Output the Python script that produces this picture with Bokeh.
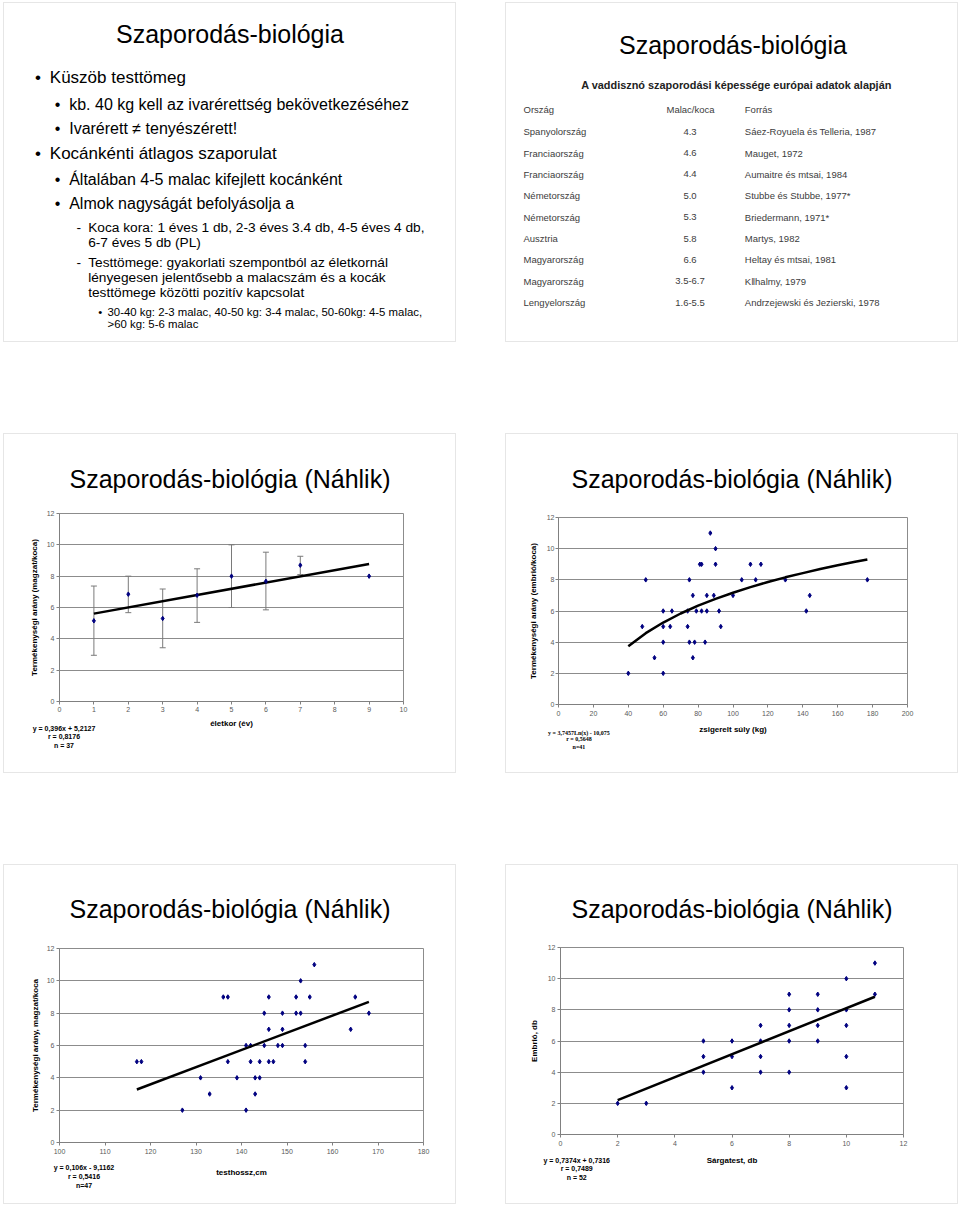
from bokeh.plotting import figure
from bokeh.models import Range1d, Whisker, TeeHead, ColumnDataSource, FixedTicker, Div
from bokeh.layouts import row, column
from bokeh.embed import file_html
from bokeh.resources import INLINE
from bokeh.core.properties import value

# ---------------- data ----------------
slide_title = "Szaporodás-biológia"
chart_title = "Szaporodás-biológia (Náhlik)"

s1_lines = [
    (1, "Küszöb testtömeg", True),
    (2, "kb. 40 kg kell az ivarérettség bekövetkezéséhez", True),
    (2, "Ivarérett ≠ tenyészérett!", True),
    (1, "Kocánkénti átlagos szaporulat", True),
    (2, "Általában 4-5 malac kifejlett kocánként", True),
    (2, "Almok nagyságát befolyásolja a", True),
    (3, "Koca kora: 1 éves 1 db, 2-3 éves 3.4 db, 4-5 éves 4 db,", True),
    (3, "6-7 éves 5 db (PL)", False),
    (3, "Testtömege: gyakorlati szempontból az életkornál", True),
    (3, "lényegesen jelentősebb a malacszám és a kocák", False),
    (3, "testtömege közötti pozitív kapcsolat", False),
    (4, "30-40 kg: 2-3 malac, 40-50 kg: 3-4 malac, 50-60kg: 4-5 malac,", True),
    (4, ">60 kg: 5-6 malac", False),
]

table_title = "A vaddisznó szaporodási képessége európai adatok alapján"
table_headers = ["Ország", "Malac/koca", "Forrás"]
countries = ["Spanyolország", "Franciaország", "Franciaország", "Németország",
             "Németország", "Ausztria", "Magyarország", "Magyarország", "Lengyelország"]
litter = ["4.3", "4.6", "4.4", "5.0", "5.3", "5.8", "6.6", "3.5-6.7", "1.6-5.5"]
sources = ["Sáez-Royuela és Telleria, 1987", "Mauget, 1972", "Aumaitre és mtsai, 1984",
           "Stubbe és Stubbe, 1977*", "Briedermann, 1971*", "Martys, 1982",
           "Heltay és mtsai, 1981", "K‖halmy, 1979", "Andrzejewski és Jezierski, 1978"]

# chart 1: age (years) vs litter size
age = [1, 2, 3, 4, 5, 6, 7, 9]
age_mean = [5.15, 6.85, 5.3, 6.78, 8.0, 7.67, 8.7, 8.0]
err_age = [1, 2, 3, 4, 5, 6, 7]
err_upper = [7.37, 8.0, 7.18, 8.47, 10.0, 9.53, 9.27]
err_lower = [2.95, 5.67, 3.43, 5.05, 6.0, 5.85, 8.1]
age_trend_x = [1, 9]
age_trend_y = [5.61, 8.78]
age_eq = ["y = 0,396x + 5,2127", "r = 0,8176", "n = 37"]

# chart 2: eviscerated weight vs embryos
weight = [40, 48, 50, 55, 60, 60, 60, 60, 64, 65, 74, 74, 75, 75, 77, 77, 78, 79, 81, 82,
          82, 84, 85, 85, 87, 89, 90, 90, 92, 93, 100, 105, 110, 113, 116, 130, 142, 144, 177]
embryo_w = [2, 5, 8, 3, 6, 5, 4, 2, 5, 6, 5, 6, 8, 4, 7, 3, 4, 6, 9, 9,
            6, 4, 7, 6, 11, 7, 10, 9, 6, 5, 7, 8, 9, 8, 9, 8, 6, 7, 8]
log_fit_x = [40, 50, 60, 70, 80, 90, 100, 110, 120, 130, 140, 150, 160, 170, 177]
log_fit_y = [3.74, 4.58, 5.26, 5.84, 6.34, 6.78, 7.17, 7.53, 7.86, 8.16, 8.43, 8.69, 8.93, 9.16, 9.31]
weight_eq = ["y = 3,7457Ln(x) - 10,075", "r = 0,5648", "n=41"]

# chart 3: body length vs foetuses
length = [117, 118, 127, 131, 133, 136, 137, 137, 139, 141, 141, 142, 142, 143, 143, 144, 144,
          145, 145, 146, 146, 146, 147, 148, 149, 149, 149, 152, 152, 153, 153, 154, 154, 155,
          156, 164, 165, 168]
foetus_l = [5, 5, 2, 4, 3, 9, 9, 5, 4, 2, 6, 6, 5, 4, 3, 4, 5,
            8, 6, 9, 7, 5, 5, 6, 8, 7, 6, 9, 8, 8, 10, 6, 5, 9,
            11, 7, 9, 8]
len_trend_x = [117, 168]
len_trend_y = [3.28, 8.70]
len_eq = ["y = 0,106x - 9,1162", "r = 0,5416", "n=47"]

# chart 4: corpora lutea vs embryos
lutea = [2, 3, 5, 5, 5, 6, 6, 6, 7, 7, 7, 7, 8, 8, 8, 8, 8, 9, 9, 9, 9, 10, 10, 10, 10, 10, 11, 11]
embryo_c = [2, 2, 6, 5, 4, 6, 5, 3, 7, 6, 5, 4, 9, 8, 7, 6, 4, 9, 8, 7, 6, 10, 8, 7, 5, 3, 11, 9]
cl_trend_x = [2, 11]
cl_trend_y = [2.21, 8.84]
cl_eq = ["y = 0,7374x + 0,7316", "r = 0,7489", "n = 52"]

# ---------------- styling ----------------
SW, SH = 453, 340
FONT = "Liberation Sans"
SLIDE_STYLE = {"border": "1px solid #e6e6e6", "box-sizing": "border-box"}
GRID = "#8c8c8c"
NAVY = "#000080"
SHIFT = 0.42  # baseline correction (em) for svg text glyphs


def text_slide():
    p = figure(width=SW, height=SH, x_range=Range1d(0, SW), y_range=Range1d(SH, 0),
               min_border=0, x_axis_location=None, y_axis_location=None,
               output_backend="svg", toolbar_location=None, styles=SLIDE_STYLE)
    p.grid.visible = False
    p.outline_line_color = None
    p.background_fill_color = "white"
    p.border_fill_color = "white"
    return p


def put_text(p, xs, ys, texts, size, align="left", color="black", style="normal", source=None):
    if source is None:
        ys = [y - SHIFT * size for y in ys]
        p.text(x=xs, y=ys, text=texts, text_font=value(FONT), text_font_size=value(f"{size}px"),
               text_align=align, text_baseline="alphabetic", text_color=color,
               text_font_style=style)
    else:
        p.text(x=xs, y=ys, text=texts, source=source, text_font=value(FONT),
               text_font_size=value(f"{size}px"), text_align=align,
               text_baseline="alphabetic", text_color=color, text_font_style=style)


# ---- slide 1 ----
s1 = text_slide()
put_text(s1, [225.5], [40.7], [slide_title], 25, align="center")
levels = {1: (17, "•", 30.5, 45.3), 2: (16, "•", 50.3, 64.7),
          3: (13.7, "-", 72.0, 83.7), 4: (11.4, "•", 93.7, 103.0)}
baselines = [81.3, 107.3, 131.3, 157, 183, 207, 229.7, 244.7, 264.7, 279.7, 295, 313.3, 325.7]
for (lvl, txt, has_bullet), yb in zip(s1_lines, baselines):
    fs, bchar, bx, tx = levels[lvl]
    put_text(s1, [tx], [yb], [txt], fs)
    if has_bullet:
        put_text(s1, [bx], [yb], [bchar], fs)

# ---- slide 2 ----
s2 = text_slide()
TCOL = "#3c3c3c"
TFS = 9.5
put_text(s2, [226.5], [52], [slide_title], 25, align="center")
put_text(s2, [230], [86.5], [table_title], 10.9, align="center", color="#222222", style="bold")
put_text(s2, [17, 238.3], [109.5, 109.5], [table_headers[0], table_headers[2]], TFS, color=TCOL)
put_text(s2, [184], [109.5], [table_headers[1]], TFS, align="center", color=TCOL)
row_y = [132.2 + i * 21.37 - SHIFT * TFS for i in range(len(countries))]
tsrc = ColumnDataSource(dict(c=countries, v=litter, s=sources, y=row_y,
                             x1=[17] * len(countries), x2=[183.5] * len(countries),
                             x3=[238.3] * len(countries)))
put_text(s2, "x1", "y", "c", TFS, color=TCOL, source=tsrc)
put_text(s2, "x2", "y", "v", TFS, align="center", color=TCOL, source=tsrc)
put_text(s2, "x3", "y", "s", TFS, color=TCOL, source=tsrc)


# ---- chart slides ----
def chart(xr, xticks, border, xlabel, ylabel, title_standoff, title_offset,
          xl_standoff, yl_standoff, xt_standoff, yt_standoff):
    l, r, t, b = border
    p = figure(width=SW, height=SH, x_range=Range1d(*xr), y_range=Range1d(0, 12),
               min_border_left=l, min_border_right=r, min_border_top=t, min_border_bottom=b,
               output_backend="svg", toolbar_location=None, styles=SLIDE_STYLE,
               title=chart_title)
    p.frame_align = False
    p.title.align = "left"
    p.title.text_font = FONT
    p.title.text_font_size = "25px"
    p.title.text_font_style = "normal"
    p.title.text_color = "black"
    p.title.standoff = title_standoff
    p.title.offset = title_offset
    p.background_fill_color = "white"
    p.border_fill_color = "white"
    p.outline_line_color = GRID
    p.xgrid.visible = False
    p.ygrid.ticker = FixedTicker(ticks=[2, 4, 6, 8, 10])
    p.ygrid.grid_line_color = GRID
    p.xaxis.ticker = FixedTicker(ticks=xticks)
    p.yaxis.ticker = FixedTicker(ticks=[0, 2, 4, 6, 8, 10, 12])
    for ax in (p.xaxis[0], p.yaxis[0]):
        ax.axis_line_color = "#808080"
        ax.major_tick_line_color = "#808080"
        ax.major_tick_out = 3
        ax.major_tick_in = 0
        ax.minor_tick_line_color = None
        ax.major_label_text_font = FONT
        ax.major_label_text_font_size = "7px"
        ax.major_label_text_color = "#5a5a5a"
        ax.axis_label_text_font = FONT
        ax.axis_label_text_font_size = "8px"
        ax.axis_label_text_font_style = "bold"
        ax.axis_label_text_color = "black"
    p.xaxis.axis_label = xlabel
    p.yaxis.axis_label = ylabel
    p.xaxis.axis_label_standoff = xl_standoff
    p.yaxis.axis_label_standoff = yl_standoff
    p.xaxis.major_label_standoff = xt_standoff
    p.yaxis.major_label_standoff = yt_standoff
    return p


def eq_block(lines, cx, cys, font_css, size):
    """Regression text under the chart, overlaid on the slide's bottom strip."""
    H = 70
    top0 = SH - H
    parts = []
    for line, cy in zip(lines, cys):
        parts.append(
            f'<div style="position:absolute;left:{cx - 100}px;width:200px;'
            f'top:{cy - top0 - 5}px;height:10px;line-height:10px;text-align:center;'
            f'white-space:nowrap;font-family:{font_css};font-size:{size}px;'
            f'font-weight:bold;color:black;">{line}</div>')
    html = (f'<div style="position:relative;width:{SW}px;height:{H}px;">'
            + "".join(parts) + "</div>")
    return Div(text=html, width=SW, height=H, margin=(-H, 0, 0, 0))


s3 = chart((0, 10), list(range(11)), (55, 54, 79, 73), "életkor (év)",
           "Termékenységi arány (magzat/koca)", 41, 10, 4, 5, 2, 2)
esrc = ColumnDataSource(dict(x=err_age, upper=err_upper, lower=err_lower))
s3.add_layout(Whisker(source=esrc, base="x", upper="upper", lower="lower",
                      line_color="#7a7a7a", line_width=1,
                      upper_head=TeeHead(size=6, line_color="#7a7a7a", line_width=1),
                      lower_head=TeeHead(size=6, line_color="#7a7a7a", line_width=1)))
s3.line(age_trend_x, age_trend_y, line_color="black", line_width=2.5)
s3.scatter(age, age_mean, marker="diamond", size=4.5, color=NAVY)
d3 = eq_block(age_eq, 61, [295.7, 304.2, 313], "'Liberation Sans'", 7)

s4 = chart((0, 200), list(range(0, 201, 20)), (52, 52, 83, 70), "zsigerelt súly (kg)",
           "Termékenységi arány (embrió/koca)", 50, 13, 6, 6, 3, 1)
s4.scatter(weight, embryo_w, marker="diamond", size=4.5, color=NAVY)
s4.line(log_fit_x, log_fit_y, line_color="black", line_width=2.5)
d4 = eq_block(weight_eq, 74, [299.7, 306, 314], "'Liberation Serif'", 6)

s5 = chart((100, 180), list(range(100, 181, 10)), (55, 34, 83, 63), "testhossz,cm",
           "Termékenységi arány, magzat/koca", 51, 10, 11, 4, 3, 2)
s5.scatter(length, foetus_l, marker="diamond", size=4.5, color=NAVY)
s5.line(len_trend_x, len_trend_y, line_color="black", line_width=2.5)
d5 = eq_block(len_eq, 81, [304.3, 313, 322], "'Liberation Sans'", 7)

s6 = chart((0, 12), list(range(0, 13, 2)), (54, 56, 82, 71), "Sárgatest, db",
           "Embrió, db", 49, 11, 7, 6, 3, 2)
s6.scatter(lutea, embryo_c, marker="diamond", size=4.5, color=NAVY)
s6.line(cl_trend_x, cl_trend_y, line_color="black", line_width=2.5)
d6 = eq_block(cl_eq, 71.7, [296.7, 305.3, 314.3], "'Liberation Sans'", 7)

layout = column(row(s1, s2, spacing=49),
                row(column(s3, d3), column(s4, d4), spacing=49),
                row(column(s5, d5), column(s6, d6), spacing=49),
                spacing=91, margin=(2, 0, 0, 3))

open("out.html", "w").write(file_html(layout, INLINE))
